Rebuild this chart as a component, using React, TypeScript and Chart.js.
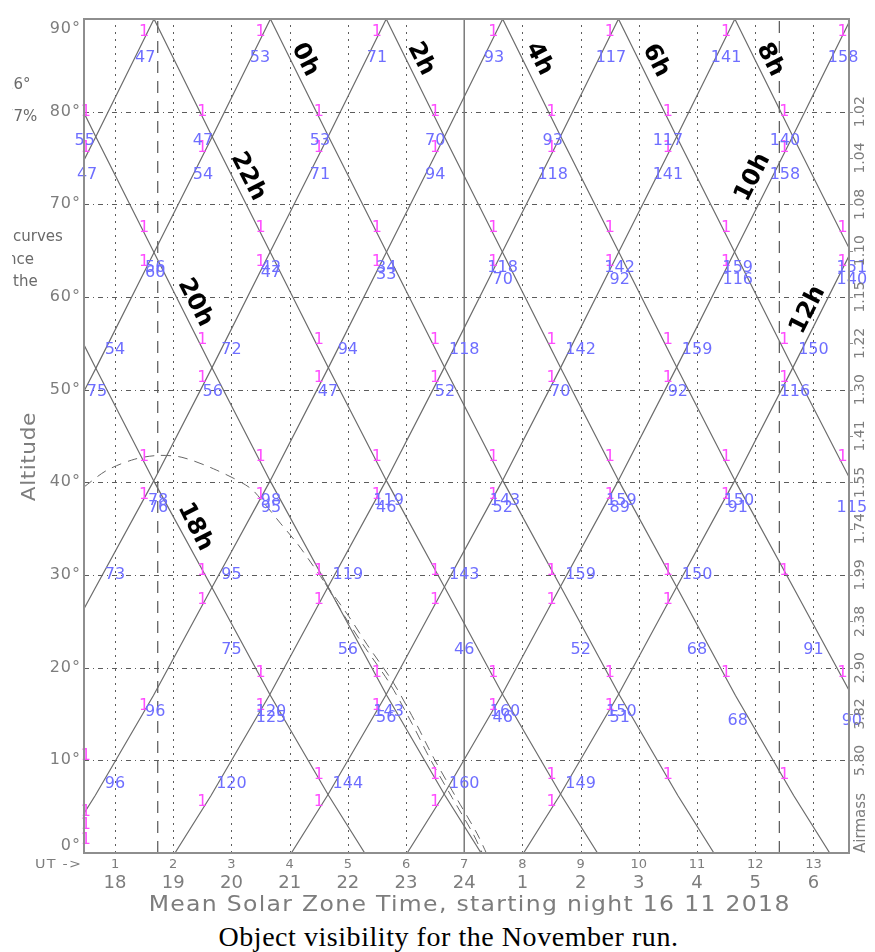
import React, { useEffect, useRef } from "react";
import { Chart, registerables } from "chart.js";

Chart.register(...registerables);

const CANVAS_W = 875;
const CANVAS_H = 920;

// axis ranges (UT hours, altitude degrees)
const UT_MIN = 0.467;
const UT_MAX = 13.611;
const ALT_MIN = 0;
const ALT_MAX = 90;

// altitude track of each object around its zenith passage (hours from peak -> degrees)
const PROFILE_HOURS = [-7.62, -7, -6, -5, -4, -3, -2, -1, 0, 1, 2, 3, 4, 5, 6, 7, 7.62];
const PROFILE_ALT = [0, 6.2, 17.0, 28.6, 40.1, 52.3, 64.8, 77.3, 90, 77.3, 64.8, 52.3, 40.1, 28.6, 17.0, 6.2, 0];

const OBJECT_NAMES = ["18h", "20h", "22h", "0h", "2h", "4h", "6h", "8h", "10h", "12h"];
const OBJECT_PEAK_UT = [-2.33, -0.33, 1.67, 3.67, 5.66, 7.66, 9.65, 11.65, 13.64, 15.64];

// moon tracks (dashed)
const MOON_A_UT = [0.467, 0.86, 1.34, 1.74, 2.15, 2.75, 3.32, 3.58, 3.84, 4.13, 4.37, 4.61, 4.95, 5.26, 5.72, 6.10, 6.41, 6.79, 7.15, 7.31];
const MOON_A_ALT = [39.5, 41.3, 42.5, 42.9, 42.7, 41.3, 39.4, 37.6, 35.6, 33.4, 31.3, 29.1, 25.5, 22.5, 18.3, 14.0, 10.2, 6.0, 2.1, 0];
const MOON_B_UT = [4.61, 5.02, 5.33, 5.79, 6.17, 6.48, 6.86, 7.22, 7.38];
const MOON_B_ALT = [29.1, 25.5, 22.5, 18.3, 14.0, 10.2, 6.0, 2.1, 0];

// vertical markers
const TWILIGHT_UT = [1.734, 12.414];
const MIDNIGHT_UT = 7;

// ticks
const UT_TICKS = [1, 2, 3, 4, 5, 6, 7, 8, 9, 10, 11, 12, 13];
const LOCAL_LABELS = ["18", "19", "20", "21", "22", "23", "24", "1", "2", "3", "4", "5", "6"];
const ALT_TICKS = [0, 10, 20, 30, 40, 50, 60, 70, 80, 90];
const GRID_ALT = [10, 20, 30, 40, 50, 60, 70, 80];
const AIRMASS_ALT = [80, 75, 70, 65, 60, 55, 50, 45, 40, 35, 30, 25, 20, 15, 10];
const AIRMASS_LABELS = ["1.02", "1.04", "1.08", "1.10", "1.15", "1.22", "1.30", "1.41", "1.55", "1.74", "1.99", "2.38", "2.90", "3.82", "5.80"];

// RA labels along the tracks
const RA_LABEL_TEXT = ["0h", "2h", "4h", "6h", "8h", "22h", "20h", "18h", "10h", "12h"];
const RA_LABEL_UT = [4.264, 6.257, 8.285, 10.295, 12.254, 3.285, 2.374, 2.374, 11.962, 12.907];
const RA_LABEL_ALT = [85.6, 85.7, 85.7, 85.5, 85.6, 73.0, 59.4, 35.2, 72.9, 58.6];
const RA_LABEL_ANGLE = [63, 63, 63, 63, 63, 63, 63, 63, -63, -63];

// pink "1" markers: rows of altitude with the UT positions in each row
const PINK_ROW_ALT = [88.6, 80.0, 76.1, 67.5, 63.8, 55.4, 51.3, 42.7, 38.6, 30.5, 27.3, 19.4, 15.9, 10.5, 8.4, 5.5, 4.4, 3.0, 1.4];
const PINK_ROW_UT = [
  [1.5, 3.5, 5.5, 7.5, 9.5, 11.5, 13.5],
  [0.5, 2.5, 4.5, 6.5, 8.5, 10.5, 12.5],
  [0.5, 2.5, 4.5, 6.5, 8.5, 10.5, 12.5],
  [1.5, 3.5, 5.5, 7.5, 9.5, 11.5, 13.5],
  [1.5, 3.5, 5.5, 7.5, 9.5, 11.5, 13.5],
  [2.5, 4.5, 6.5, 8.5, 10.5, 12.5],
  [2.5, 4.5, 6.5, 8.5, 10.5, 12.5],
  [1.5, 3.5, 5.5, 7.5, 9.5, 11.5, 13.5],
  [1.5, 3.5, 5.5, 7.5, 9.5, 11.5],
  [2.5, 4.5, 6.5, 8.5, 10.5, 12.5],
  [2.5, 4.5, 6.5, 8.5, 10.5],
  [3.5, 5.5, 7.5, 9.5, 11.5, 13.5],
  [1.5, 3.5, 5.5, 7.5, 9.5],
  [0.5],
  [4.5, 6.5, 8.5, 10.5, 12.5],
  [2.5, 4.5, 6.5, 8.5],
  [0.5],
  [0.5],
  [0.5],
];

// blue moon-distance numbers
const BLUE_TEXT = [
  "47", "53", "71", "93", "117", "141", "158",
  "55", "47", "53", "70", "93", "117", "140",
  "47", "54", "71", "94", "118", "141", "158",
  "56", "42", "34", "118", "142", "159", "151",
  "60", "47", "33", "70", "92", "116", "140",
  "54", "72", "94", "118", "142", "159", "150",
  "75", "56", "47", "52", "70", "92", "116",
  "78", "98", "119", "143", "159", "150",
  "76", "95", "46", "52", "89", "91", "115",
  "73", "95", "119", "143", "159", "150",
  "75", "56", "46", "52", "68", "91",
  "96", "120", "143", "160", "150",
  "125", "56", "46", "51", "68", "90",
  "96", "120", "144", "160", "149",
];
const BLUE_UT = [
  1.52, 3.49, 5.50, 7.51, 9.52, 11.50, 13.51,
  0.48, 2.51, 4.52, 6.50, 8.52, 10.50, 12.51,
  0.52, 2.51, 4.52, 6.50, 8.52, 10.50, 12.51,
  1.69, 3.68, 5.66, 7.66, 9.67, 11.70, 13.66,
  1.69, 3.68, 5.66, 7.66, 9.67, 11.70, 13.66,
  1.0, 3.0, 5.0, 7.0, 9.0, 11.0, 13.0,
  0.69, 2.68, 4.66, 6.67, 8.65, 10.67, 12.68,
  1.74, 3.68, 5.70, 7.70, 9.70, 11.72,
  1.74, 3.68, 5.66, 7.66, 9.67, 11.70, 13.66,
  1.0, 3.0, 5.0, 7.0, 9.0, 11.0,
  3.0, 5.0, 7.0, 9.0, 11.0, 13.0,
  1.69, 3.68, 5.70, 7.70, 9.70,
  3.68, 5.66, 7.66, 9.67, 11.70, 13.66,
  1.0, 3.0, 5.0, 7.0, 9.0,
];
const BLUE_ALT = [
  85.8, 85.8, 85.8, 85.8, 85.8, 85.8, 85.8,
  76.8, 76.8, 76.8, 76.8, 76.8, 76.8, 76.8,
  73.2, 73.2, 73.2, 73.2, 73.2, 73.2, 73.2,
  63.2, 63.2, 63.2, 63.2, 63.2, 63.2, 63.2,
  62.6, 62.6, 62.4, 61.9, 61.9, 61.9, 61.9,
  54.3, 54.3, 54.3, 54.3, 54.3, 54.3, 54.3,
  49.8, 49.8, 49.8, 49.8, 49.8, 49.8, 49.8,
  38.0, 38.0, 38.0, 38.0, 38.0, 38.0,
  37.3, 37.3, 37.3, 37.3, 37.3, 37.3, 37.3,
  30.0, 30.0, 30.0, 30.0, 30.0, 30.0,
  21.9, 21.9, 21.9, 21.9, 21.9, 21.9,
  15.2, 15.2, 15.2, 15.2, 15.2,
  14.6, 14.6, 14.6, 14.6, 14.3, 14.3,
  7.5, 7.5, 7.5, 7.5, 7.5,
];

const TEXT_GRAY = "#7d7d7d";
const LINE_GRAY = "#6c6c6c";
const FONT = "'DejaVu Sans', 'Liberation Sans', sans-serif";

// draw text centred at (cx, cy) and fitted to a target width: widen glyphs a little, then spacing
function fitText(ctx: CanvasRenderingContext2D, text: string, cx: number, cy: number, target: number, maxScale: number) {
  const c: any = ctx;
  c.letterSpacing = "0px";
  const natural = ctx.measureText(text).width;
  const sx = Math.min(maxScale, target / natural);
  const n = Array.from(text).length;
  const s = (target / sx - natural) / n;
  ctx.save();
  ctx.translate(cx, cy);
  ctx.scale(sx, 1);
  c.letterSpacing = s + "px";
  ctx.textAlign = "left";
  ctx.fillText(text, -(target / sx - s) / 2, 0);
  ctx.restore();
  c.letterSpacing = "0px";
}

const artPlugin = {
  id: "art",
  beforeDatasetsDraw(chart: any) {
    const ctx: CanvasRenderingContext2D = chart.ctx;
    const { left, right, top, bottom } = chart.chartArea;
    const xs = chart.scales.x;
    const ys = chart.scales.y;
    ctx.save();
    ctx.strokeStyle = "#5c5c5c";
    ctx.lineWidth = 1;
    ctx.setLineDash([5, 4, 1, 4]);
    for (const a of GRID_ALT) {
      const y = Math.round(ys.getPixelForValue(a)) + 0.5;
      ctx.beginPath();
      ctx.moveTo(left, y);
      ctx.lineTo(right, y);
      ctx.stroke();
    }
    ctx.setLineDash([2, 5]);
    for (const u of UT_TICKS) {
      if (u === MIDNIGHT_UT) continue;
      const x = Math.round(xs.getPixelForValue(u)) + 0.5;
      ctx.beginPath();
      ctx.moveTo(x, bottom);
      ctx.lineTo(x, top);
      ctx.stroke();
    }
    ctx.restore();
  },
  afterDatasetsDraw(chart: any) {
    const ctx: CanvasRenderingContext2D = chart.ctx;
    const { left, right, top, bottom } = chart.chartArea;
    const xs = chart.scales.x;
    const ys = chart.scales.y;
    ctx.save();
    ctx.textBaseline = "middle";
    ctx.textAlign = "center";

    // pink markers
    ctx.fillStyle = "#ff4cff";
    ctx.font = `16px ${FONT}`;
    PINK_ROW_ALT.forEach((a, r) => {
      for (const u of PINK_ROW_UT[r]) {
        ctx.fillText("1", xs.getPixelForValue(u), ys.getPixelForValue(a));
      }
    });
    // blue numbers
    ctx.fillStyle = "#6e6eff";
    BLUE_TEXT.forEach((t, i) => {
      ctx.fillText(t, xs.getPixelForValue(BLUE_UT[i]), ys.getPixelForValue(BLUE_ALT[i]));
    });

    // RA labels
    ctx.fillStyle = "#000";
    ctx.font = `bold 24px ${FONT}`;
    RA_LABEL_TEXT.forEach((t, i) => {
      ctx.save();
      ctx.translate(xs.getPixelForValue(RA_LABEL_UT[i]), ys.getPixelForValue(RA_LABEL_ALT[i]));
      ctx.rotate((RA_LABEL_ANGLE[i] * Math.PI) / 180);
      ctx.textAlign = "center";
      ctx.fillText(t, 0, 0);
      ctx.restore();
    });

    // frame
    ctx.strokeStyle = "#8e8e8e";
    ctx.lineWidth = 2;
    ctx.setLineDash([]);
    ctx.strokeRect(left, top, right - left, bottom - top);

    // right ticks
    ctx.lineWidth = 1;
    for (const a of AIRMASS_ALT) {
      const y = Math.round(ys.getPixelForValue(a)) + 0.5;
      ctx.beginPath();
      ctx.moveTo(right, y);
      ctx.lineTo(right + 4, y);
      ctx.stroke();
    }

    // left altitude labels
    ctx.fillStyle = TEXT_GRAY;
    ctx.font = `16px ${FONT}`;
    ctx.textAlign = "right";
    for (const a of ALT_TICKS) {
      let y = ys.getPixelForValue(a);
      y = Math.min(Math.max(y, top + 10), bottom - 7);
      (ctx as any).letterSpacing = "1px";
      ctx.fillText(a + "°", left - 3, y);
      (ctx as any).letterSpacing = "0px";
    }
    ctx.save();
    ctx.font = `20px ${FONT}`;
    ctx.translate(30, ys.getPixelForValue(45) + 21);
    ctx.rotate(-Math.PI / 2);
    fitText(ctx, "Altitude", 0, 0, 89, 1.08);
    ctx.restore();

    // bottom labels
    ctx.font = `13px ${FONT}`;
    ctx.textAlign = "center";
    for (const u of UT_TICKS) {
      ctx.fillText(String(u), xs.getPixelForValue(u), bottom + 12);
    }
    fitText(ctx, "UT ->", 58, bottom + 12, 47, 1.1);
    ctx.font = `18px ${FONT}`;
    ctx.textAlign = "center";
    UT_TICKS.forEach((u, i) => {
      ctx.fillText(LOCAL_LABELS[i], xs.getPixelForValue(u), bottom + 30);
    });
    ctx.font = `21px ${FONT}`;
    fitText(ctx, "Mean Solar Zone Time, starting night 16 11 2018", 469, bottom + 53, 642, 1.12);

    // right airmass labels
    ctx.font = `14px ${FONT}`;
    AIRMASS_LABELS.forEach((t, i) => {
      ctx.save();
      ctx.translate(right + 11, ys.getPixelForValue(AIRMASS_ALT[i]));
      ctx.rotate(-Math.PI / 2);
      ctx.textAlign = "center";
      ctx.fillText(t, 0, 0);
      ctx.restore();
    });
    ctx.save();
    ctx.font = `15px ${FONT}`;
    ctx.translate(right + 12, bottom - 30);
    ctx.rotate(-Math.PI / 2);
    fitText(ctx, "Airmass", 0, 0, 60, 1.1);
    ctx.restore();

    // clipped fragments of neighbouring text at the left edge
    ctx.save();
    ctx.beginPath();
    ctx.rect(12, 0, 70, 300);
    ctx.clip();
    ctx.font = `15px ${FONT}`;
    ctx.fillStyle = "#6a6a6a";
    ctx.textAlign = "left";
    ctx.fillText("16°", 4, 85);
    ctx.fillText("77%", 4, 117);
    ctx.fillText("curves", 13, 237);
    ctx.fillText("nce", 7, 260);
    ctx.fillText("the", 13, 282);
    ctx.restore();
    ctx.restore();
  },
};

export default function App() {
  const ref = useRef<HTMLCanvasElement | null>(null);

  useEffect(() => {
    const canvas = ref.current;
    if (!canvas) return;

    const datasets: any[] = [];
    OBJECT_NAMES.forEach((name, k) => {
      datasets.push({
        label: name,
        data: PROFILE_HOURS.map((h, i) => ({ x: OBJECT_PEAK_UT[k] + h, y: PROFILE_ALT[i] })),
        borderColor: LINE_GRAY,
        borderWidth: 1.2,
        pointRadius: 0,
        tension: 0,
      });
    });
    datasets.push({
      label: "Moon",
      data: MOON_A_UT.map((u, i) => ({ x: u, y: MOON_A_ALT[i] })),
      borderColor: "#666",
      borderWidth: 1,
      borderDash: [10, 7],
      pointRadius: 0,
      tension: 0.3,
    });
    datasets.push({
      label: "Moon 2",
      data: MOON_B_UT.map((u, i) => ({ x: u, y: MOON_B_ALT[i] })),
      borderColor: "#666",
      borderWidth: 1,
      borderDash: [10, 7],
      pointRadius: 0,
      tension: 0.3,
    });
    TWILIGHT_UT.forEach((u, i) => {
      datasets.push({
        label: "twilight " + i,
        data: [
          { x: u, y: ALT_MIN },
          { x: u, y: ALT_MAX },
        ],
        borderColor: "#555",
        borderWidth: 1.2,
        borderDash: [12, 8],
        pointRadius: 0,
      });
    });
    datasets.push({
      label: "midnight",
      data: [
        { x: MIDNIGHT_UT, y: ALT_MIN },
        { x: MIDNIGHT_UT, y: ALT_MAX },
      ],
      borderColor: "#7a7a7a",
      borderWidth: 1.5,
      pointRadius: 0,
    });

    const chart = new Chart(canvas, {
      type: "line",
      data: { datasets },
      options: {
        responsive: false,
        animation: false,
        events: [],
        layout: { padding: { left: 84, right: 26, top: 19, bottom: CANVAS_H - 853 } },
        scales: {
          x: { type: "linear", min: UT_MIN, max: UT_MAX, display: false },
          y: { type: "linear", min: ALT_MIN, max: ALT_MAX, display: false },
        },
        plugins: {
          legend: { display: false },
          tooltip: { enabled: false },
        },
      },
      plugins: [artPlugin],
    } as any);

    return () => chart.destroy();
  }, []);

  return (
    <div style={{ position: "absolute", left: 0, top: 0, width: 875, height: 952, background: "#fff" }}>
      <canvas ref={ref} width={CANVAS_W} height={CANVAS_H} style={{ width: CANVAS_W, height: CANVAS_H, display: "block" }} />
      <div
        style={{
          position: "absolute",
          left: 11,
          top: 921,
          width: 875,
          textAlign: "center",
          fontFamily: "'Liberation Serif', 'Times New Roman', serif",
          fontSize: 28,
          letterSpacing: "0.55px",
          lineHeight: "32px",
          color: "#000",
        }}
      >
        Object visibility for the November run.
      </div>
    </div>
  );
}
